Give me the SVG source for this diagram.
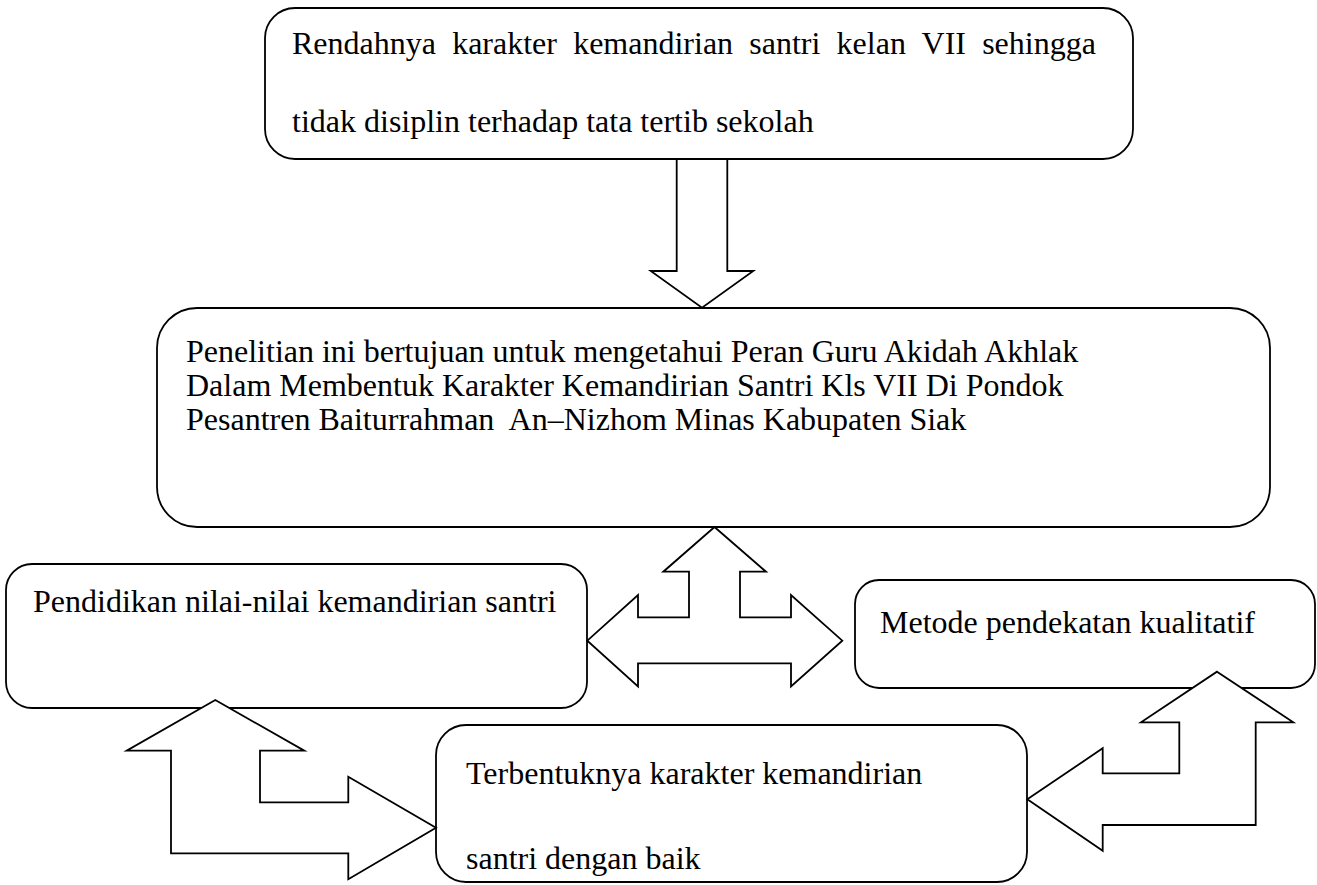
<svg xmlns="http://www.w3.org/2000/svg" width="1317" height="885" viewBox="0 0 1317 885">
<style>
.box{fill:#fff;stroke:#000;stroke-width:1.8}
.arr{fill:#fff;stroke:#000;stroke-width:1.8;stroke-linejoin:miter}
text{font-family:"Liberation Serif","Times New Roman",serif;font-size:32px;fill:#000;white-space:pre}
</style>
<rect width="1317" height="885" fill="#fff"/>
<g id="node-problem">
<rect class="box" x="265" y="8" width="868" height="151" rx="30" ry="30"/>
<text x="292" y="54" word-spacing="8.2">Rendahnya karakter kemandirian santri kelan VII sehingga</text>
<text x="292" y="132">tidak disiplin terhadap tata tertib sekolah</text>
</g>
<g id="node-purpose">
<rect class="box" x="157" y="308" width="1113" height="219" rx="40" ry="40"/>
<text x="186" y="362">Penelitian ini bertujuan untuk mengetahui Peran Guru Akidah Akhlak</text>
<text x="186" y="396">Dalam Membentuk Karakter Kemandirian Santri Kls VII Di Pondok</text>
<text x="186" y="430">Pesantren Baiturrahman  An–Nizhom Minas Kabupaten Siak</text>
</g>
<g id="node-education">
<rect class="box" x="6" y="564" width="581" height="144" rx="26" ry="26"/>
<text x="33" y="612">Pendidikan nilai-nilai kemandirian santri</text>
</g>
<g id="node-method">
<rect class="box" x="855" y="580" width="460" height="108" rx="24" ry="24"/>
<text x="880" y="633">Metode pendekatan kualitatif</text>
</g>
<g id="node-result">
<rect class="box" x="436" y="725" width="591" height="157" rx="30" ry="30"/>
<text x="466" y="784">Terbentuknya karakter kemandirian</text>
<text x="466" y="869">santri dengan baik</text>
</g>
<g id="connectors">
<polygon class="arr" points="676.7,159 727.3,159 727.3,271 753.3,271 702,307.7 650.7,271 676.7,271"/>
<polygon class="arr" points="714.5,527 766,571.7 740,571.7 740,617.3 791,617.3 791,595 842.3,640.7 791,686.4 791,663.3 638,663.3 638,686.4 587.3,640.7 638,595 638,617.3 689,617.3 689,571.7 663.3,571.7"/>
<polygon class="arr" points="215.3,700 304.3,750.7 260,750.7 260,802.3 348.3,802.3 348.3,776.7 436,827.7 348.3,879.3 348.3,853.3 171,853.3 171,750.7 126.7,750.7"/>
<polygon class="arr" points="1217,671.7 1293.3,722.3 1255.7,722.3 1255.7,825 1102.7,825 1102.7,850.7 1027.3,799.3 1102.7,748.3 1102.7,773.3 1179.3,773.3 1179.3,722.3 1141,722.3"/>
</g>
</svg>
